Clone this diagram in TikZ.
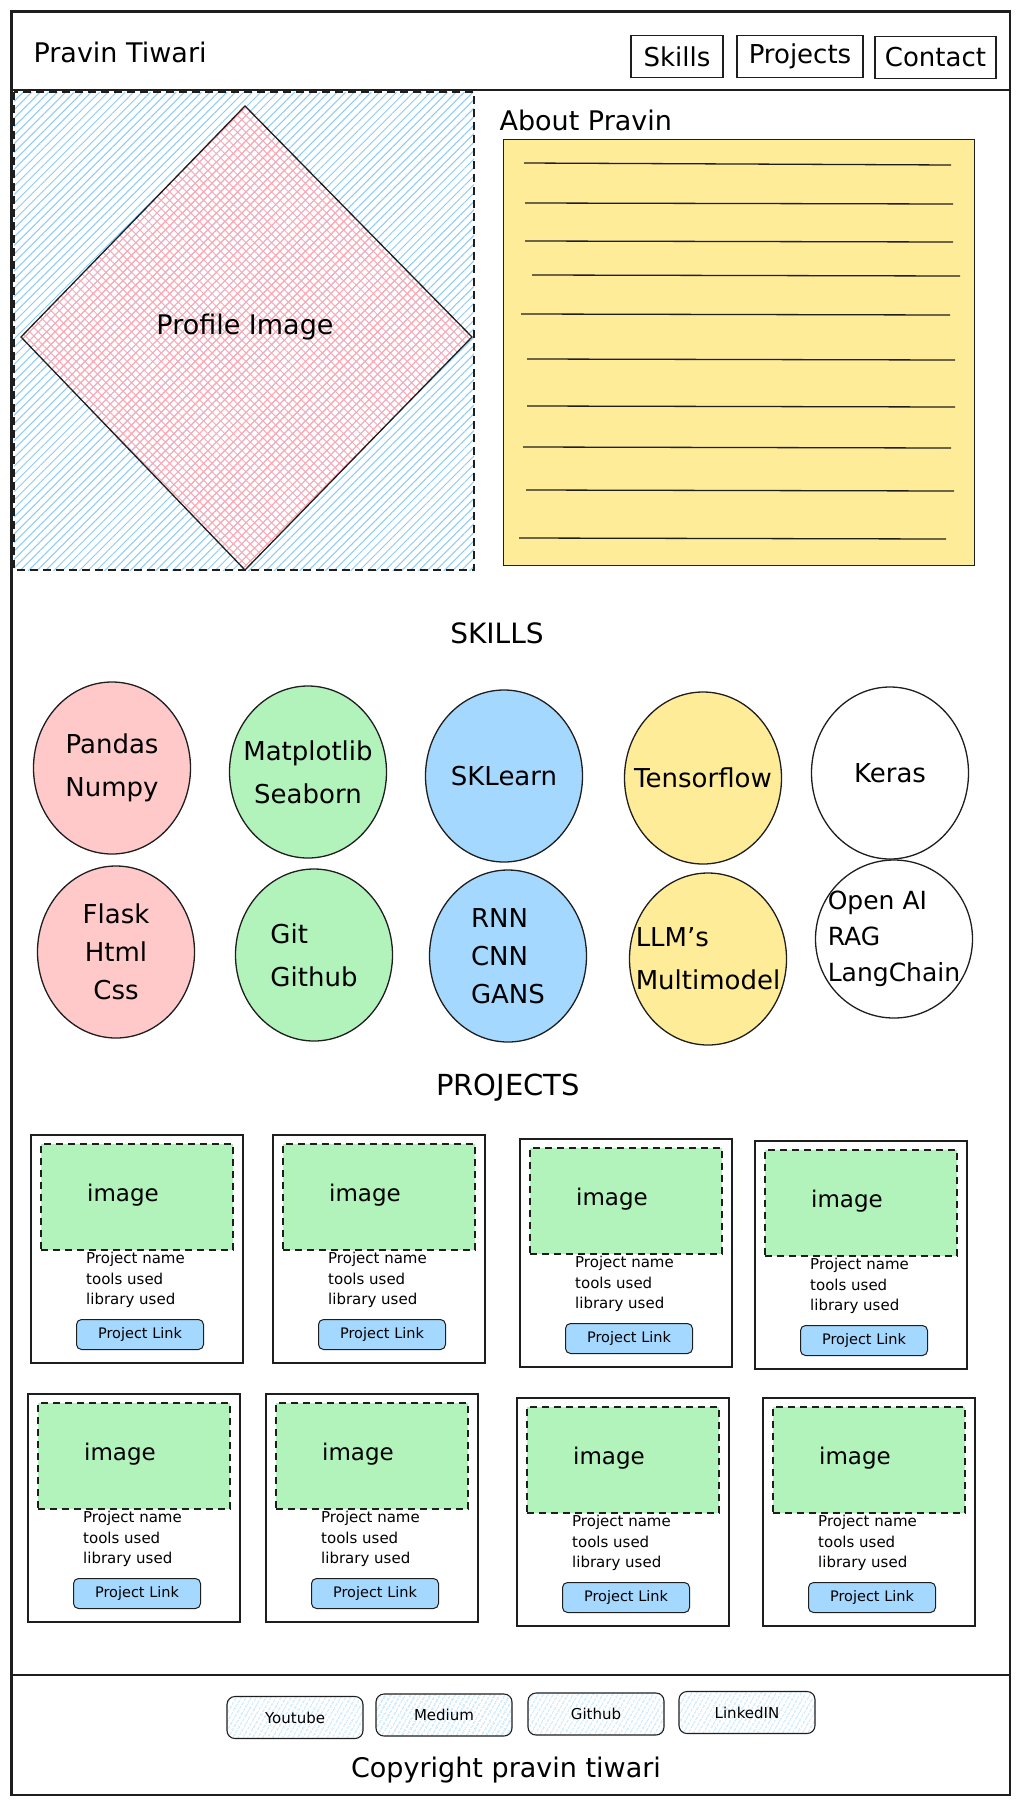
\documentclass[tikz,border=0pt]{standalone}
\usepackage{fontspec}
\setmainfont{DejaVu Sans}
\usetikzlibrary{shapes.geometric,patterns.meta,positioning}

\definecolor{skpink}{HTML}{FFC9C9}
\definecolor{skgreen}{HTML}{B2F2BB}
\definecolor{skblue}{HTML}{A5D8FF}
\definecolor{skyellow}{HTML}{FFEC99}
\definecolor{hatchblue}{HTML}{8CCBF5}
\definecolor{hatchpink}{HTML}{FFA8B4}
\definecolor{ink}{HTML}{1E1E1E}

\tikzset{
  frame/.style={draw=ink, line width=2.4pt},
  divider/.style={draw=ink, line width=1.6pt},
  navbtn/.style={draw=ink, line width=1.4pt, minimum height=42pt, inner sep=0pt, font=\fontsize{26}{30}\selectfont},
  skill/.style={ellipse, draw=ink, line width=1.3pt, minimum width=157pt, minimum height=172pt, inner sep=0pt},
  skilltext/.style={font=\fontsize{26}{43}\selectfont, align=center, inner sep=0pt},
  card/.style={draw=ink, line width=1.3pt},
  imgbox/.style={draw=ink, line width=1.6pt, dash pattern=on 7pt off 5pt, fill=skgreen, minimum width=192pt, minimum height=106pt, inner sep=0pt},
  linkbtn/.style={draw=ink, line width=1pt, rounded corners=5pt, fill=skblue, minimum width=127pt, minimum height=30pt, inner sep=0pt, font=\fontsize{14.5}{16}\selectfont},
  socialbtn/.style={draw=ink, line width=1.1pt, rounded corners=8pt, pattern={Lines[angle=60,distance=4pt,line width=0.8pt]}, pattern color=hatchblue, minimum width=136pt, minimum height=42pt, inner sep=0pt, font=\fontsize{15}{17}\selectfont},
  ruled/.style={draw=ink, line width=1.3pt},
}

% one project card: name, x, y of top left corner
\newcommand{\projcard}[3]{%
  \draw[card] (#2,#3) rectangle ++(212,228);
  \node[imgbox, anchor=north west] (#1img) at ({#2+9},{#3+8}) {};
  \node (#1lbl) at ({#2+92},{#3+60}) {\fontsize{23}{25}\selectfont image};
  \node[anchor=north west, align=left, inner sep=0pt, font=\fontsize{15}{20.5}\selectfont] (#1txt) at ({#2+55},{#3+117}) {Project name\\tools used\\library used};
  \node[linkbtn, anchor=north west] (#1btn) at ({#2+45},{#3+184}) {Project Link};
}

\begin{document}
\begin{tikzpicture}[x=1pt,y=-1pt]
            \useasboundingbox (0,0) rectangle (1022,1804);
            % page frame
            \draw[frame] (11.5,11.5) rectangle (1010,1795);
            \draw[divider] (11.5,90) -- (1010,90);
            \draw[divider] (11.5,1675) -- (1010,1675);

            % header
            \node[anchor=west, font=\fontsize{27}{30}\selectfont] (brand) at (30,52) {Pravin Tiwari};
            \node[navbtn, minimum width=92pt] (navskills) at (677,56.5) {Skills};
            \node[navbtn, minimum width=126pt] (navprojects) at (800,56.5) {Projects};
            \node[navbtn, minimum width=121pt] (navcontact) at (935.5,57.5) {Contact};

            % profile picture
            \draw[draw=ink, line width=1.6pt, dash pattern=on 8pt off 5pt, pattern={Lines[angle=45,distance=6pt,line width=1pt]}, pattern color=hatchblue] (14,92) rectangle (474,570);
            \draw[draw=ink, line width=1.3pt, pattern={Hatch[angle=45,distance=6pt,line width=1pt]}, pattern color=hatchpink] (245,106) -- (472,337) -- (245,570) -- (21,337) -- cycle;
            \node[font=\fontsize{27}{30}\selectfont] (profile) at (245,327) {Profile Image};

            % about box
            \node[anchor=west, font=\fontsize{27}{30}\selectfont] (abouthead) at (496,120) {About Pravin};
            \node[draw=ink, line width=1.4pt, fill=skyellow, anchor=north west, minimum width=471pt, minimum height=426pt, inner sep=0pt] (aboutbox) at (503,139) {};
            \draw[ruled] (524,163) -- (951,165);
            \draw[ruled] (525,203) -- (953,204);
            \draw[ruled] (525,241) -- (953,242);
            \draw[ruled] (532,275) -- (960,276);
            \draw[ruled] (521,314) -- (950,315);
            \draw[ruled] (527,359) -- (955,360);
            \draw[ruled] (527,406) -- (955,407);
            \draw[ruled] (523,447) -- (951,448);
            \draw[ruled] (526,490) -- (954,491);
            \draw[ruled] (519,538) -- (946,539);

            % skills
            \node[font=\fontsize{28}{30}\selectfont] (skillshead) at (497,633) {SKILLS};
            \node[skill, fill=skpink] (pandas) at (112,768) {};
            \node[skilltext] (pandas-t) at (pandas) {Pandas\\Numpy};
            \node[skill, fill=skgreen] (matplotlib) at (308,772) {};
            \node[skilltext] (matplotlib-t) at (matplotlib) {Matplotlib\\Seaborn};
            \node[skill, fill=skblue] (sklearn) at (504,776) {};
            \node[skilltext] (sklearn-t) at (sklearn) {SKLearn};
            \node[skill, fill=skyellow] (tensorflow) at (703,778) {};
            \node[skilltext] (tensorflow-t) at (tensorflow) {Tensorflow};
            \node[skill, fill=white] (keras) at (890,773) {};
            \node[skilltext] (keras-t) at (keras) {Keras};
            \node[skill, fill=skpink] (flask) at (116,952) {};
            \node[skilltext, font=\fontsize{26}{38}\selectfont] (flask-t) at (flask) {Flask\\Html\\Css};
            \node[skill, fill=skgreen] (git) at (314,955) {};
            \node[skilltext, align=left] (git-t) at (git) {Git\\Github};
            \node[skill, fill=skblue] (rnn) at (508,956) {};
            \node[skilltext, align=left, font=\fontsize{26}{38}\selectfont] (rnn-t) at (rnn) {RNN\\CNN\\GANS};
            \node[skill, fill=skyellow] (llm) at (708,959) {};
            \node[skilltext, align=left] (llm-t) at (llm) {LLM's\\Multimodel};
            \node[skill, fill=white, minimum height=158pt] (openai) at (894,939) {};
            \node[skilltext, align=left, font=\fontsize{25}{36}\selectfont] (openai-t) at (openai) {Open AI\\RAG\\LangChain};

            % projects
            \node[font=\fontsize{29}{32}\selectfont] (projhead) at (508,1088) {PROJECTS};
            \projcard{pa}{31}{1135}
            \projcard{pb}{273}{1135}
            \projcard{pc}{520}{1139}
            \projcard{pd}{755}{1141}
            \projcard{pe}{28}{1394}
            \projcard{pf}{266}{1394}
            \projcard{pg}{517}{1398}
            \projcard{ph}{763}{1398}

            % footer
            \node[socialbtn] (youtube) at (295,1717.5) {Youtube};
            \node[socialbtn] (medium) at (444,1715) {Medium};
            \node[socialbtn] (github) at (596,1714) {Github};
            \node[socialbtn] (linkedin) at (747,1712.5) {LinkedIN};
            \node[font=\fontsize{27}{30}\selectfont] (copyright) at (506,1770) {Copyright pravin tiwari};
        \end{tikzpicture}
\end{document}
